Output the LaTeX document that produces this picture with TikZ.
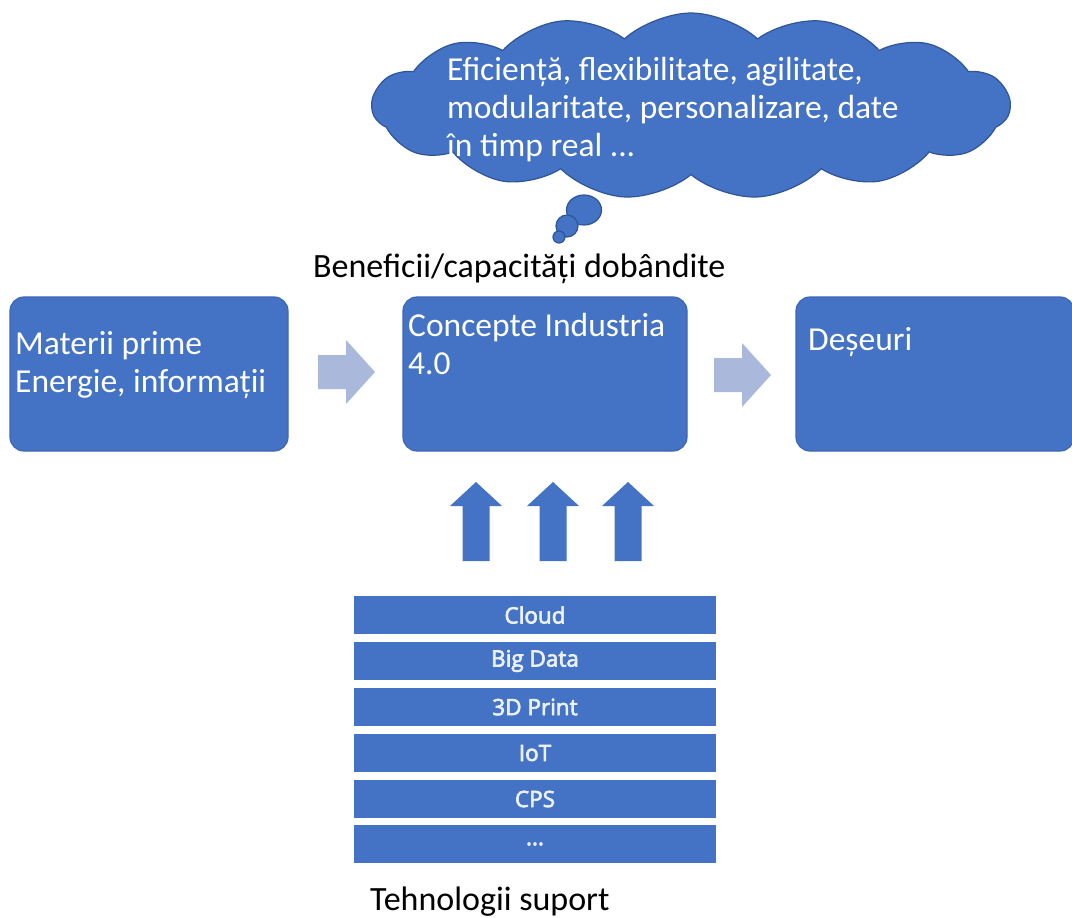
\documentclass[tikz,border=0pt]{standalone}
\usepackage{fontspec}
\setmainfont{Carlito}
\newfontfamily\techfont[FakeBold=3]{Open Sans}
\usetikzlibrary{shapes.symbols}

\definecolor{boxblue}{HTML}{4472C4}
\definecolor{boxedge}{HTML}{3E66B4}
\definecolor{cloudedge}{HTML}{2F5597}
\definecolor{flowarrow}{HTML}{A9B8DB}

\tikzset{
  stagebox/.style={draw=boxedge, line width=1.2, fill=boxblue, rounded corners=14,
    minimum width=278, minimum height=154, inner sep=0},
  boxtext/.style={text=white, font=\fontsize{33.5}{38}\selectfont, align=left,
    inner sep=0, anchor=base west},
  techrow/.style={fill=boxblue, minimum width=362, minimum height=38, inner sep=0,
    text=white!90!boxblue, font=\techfont\fontsize{22.5}{26}\selectfont},
  caption/.style={text=black, font=\fontsize{34}{38}\selectfont, inner sep=0,
    anchor=base west},
  bubble/.style={fill=boxblue, draw=cloudedge, line width=1.2},
  rightblock/.pic={
    \fill[flowarrow] (0,-17) -- (28,-17) -- (28,-32) -- (57,0) -- (28,32)
      -- (28,17) -- (0,17) -- cycle;},
  upblock/.pic={
    \fill[boxblue] (0,0) -- (26,24) -- (13.5,24) -- (13.5,79) -- (-13.5,79)
      -- (-13.5,24) -- (-26,24) -- cycle;},
}

\begin{document}
\begin{tikzpicture}[x=1pt, y=-1pt]
\useasboundingbox (0,0) rectangle (1072,918);

% thought cloud with its trailing bubbles
\node[cloud, cloud puffs=15, cloud puff arc=85, aspect=3.4,
      minimum width=638, minimum height=186, bubble] (benefitcloud) at (691,106) {};
\draw[bubble] (584,210) ellipse [x radius=17.5, y radius=15];
\draw[bubble] (567,226) circle [radius=11];
\draw[bubble] (559,237) circle [radius=6];
% the last line's baseline anchors the block
\node[boxtext] (benefits) at (447,156)
  {Eficiență, flexibilitate, agilitate,\\modularitate, personalizare, date\\în timp real ...};

\node[caption] (benefitcap) at (313,277) {Beneficii/capacități dobândite};

% process stages
\node[stagebox] (inputs) at (149,374) {};
\node[stagebox, minimum width=284] (concepts) at (545,374) {};
\node[stagebox] (waste) at (935,374) {};

\node[boxtext] (inputstext) at (15,392) {Materii prime\\Energie, informații};
\node[boxtext] (conceptstext) at (408,374) {Concepte Industria\\4.0};
\node[boxtext] (wastetext) at (808,350) {Deșeuri};

% flow between the stages
\pic at (318,372) {rightblock};
\pic at (714,375) {rightblock};

% supporting technologies feeding the concepts
\pic at (476,482) {upblock};
\pic at (553,482) {upblock};
\pic at (628,482) {upblock};

\node[techrow] (cloudtech) at (535,615) {Cloud};
\node[techrow] (bigdata)   at (535,661) {Big Data};
\node[techrow] (print3d)   at (535,707) {3D Print};
\node[techrow] (iot)       at (535,753) {IoT};
\node[techrow] (cps)       at (535,799) {CPS};
\node[techrow] (moretech)  at (535,844) {...};

\node[caption] (techcap) at (370,910) {Tehnologii suport};
\end{tikzpicture}
\end{document}
